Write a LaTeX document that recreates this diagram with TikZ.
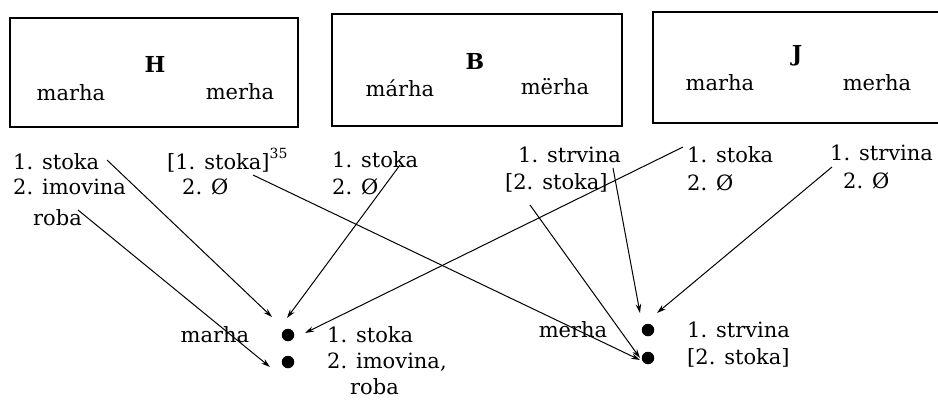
\documentclass[tikz,border=0pt]{standalone}
\usepackage{fontspec}
\setmainfont{DejaVu Serif}
\usetikzlibrary{arrows.meta,calc}
\newcommand{\fnref}[1]{\raisebox{0.5em}{\fontsize{14}{14}\selectfont #1}}
\begin{document}
\begin{tikzpicture}[x=1pt,y=-1pt,
  font=\fontsize{21}{25}\selectfont,
  frame/.style={line width=1.3pt},
  word/.style={inner sep=0pt},
  item/.style={inner sep=0pt,anchor=west},
  dialect/.style={inner sep=0pt,font=\fontsize{22}{26}\selectfont\bfseries},
  dot/.style={circle,fill=black,inner sep=0pt,minimum size=12.5pt},
  link/.style={line width=1pt,-{Stealth[length=9pt,width=5.5pt]}}]
\useasboundingbox (0,0) rectangle (938,400);

% dialect boxes
\draw[frame] (10,18) rectangle (298,127);
\draw[frame] (332,14) rectangle (622,126);
\draw[frame] (940,12) -- (653,12) -- (653,123) -- (940,123);

\node[dialect] (H) at (155,64) {H};
\node[word] (Hma) at (71,93) {marha};
\node[word] (Hme) at (240,92) {merha};
\node[dialect] (B) at (475,61) {B};
\node[word] (Bma) at (400,88) {márha};
\node[word] (Bme) at (555,87) {mërha};
\node[dialect] (J) at (797,56) {J};
\node[word] (Jma) at (720,83) {marha};
\node[word] (Jme) at (877,83) {merha};

% meanings under each dialect form
\node[item] (h1a) at (13,162) {1. stoka};
\node[item] (h1b) at (13,187) {2. imovina};
\node[item] (h1c) at (33,218) {roba};
\node[item,anchor=base west] (h2a) at (167,169) {[1. stoka]\fnref{35}};
\node[item] (h2b) at (182,187) {2. Ø};
\node[item] (b1a) at (332,160) {1. stoka};
\node[item] (b1b) at (332,187) {2. Ø};
\node[item] (b2a) at (518,155) {1. strvina};
\node[item] (b2b) at (505,183) {[2. stoka]};
\node[item] (j1a) at (687,155) {1. stoka};
\node[item] (j1b) at (687,183) {2. Ø};
\node[item] (j2a) at (830,153) {1. strvina};
\node[item] (j2b) at (843,181) {2. Ø};

% standard forms
\node[dot] (d1) at (288,335) {};
\node[dot] (d2) at (288,362) {};
\node[dot] (d3) at (648,330) {};
\node[dot] (d4) at (648,358) {};
\node[word] (marha) at (215,335) {marha};
\node[item] (m1) at (327,335) {1. stoka};
\node[item] (m2) at (327,362) {2. imovina,};
\node[item] (m3) at (350,387) {roba};
\node[word] (merha) at (573,330) {merha};
\node[item] (e1) at (687,330) {1. strvina};
\node[item] (e2) at (687,358) {[2. stoka]};

% start points of the links
\coordinate (s1) at (107,160);
\coordinate (s2) at (78,210);
\coordinate (s3) at (400,165);
\coordinate (s4) at (253,175);
\coordinate (s5) at (683,147);
\coordinate (s6) at (530,205);
\coordinate (s7) at (613,168);
\coordinate (s8) at (832,167);

\draw[link] (s1) -- ($(d1)+(-16,-18)$);
\draw[link] (s2) -- ($(d2)+(-18,5)$);
\draw[link] (s3) -- ($(d1)+(-1,-17)$);
\draw[link] (s4) -- ($(d4)+(-8,2)$);
\draw[link] (s5) -- ($(d1)+(17,-2)$);
\draw[link] (s6) -- ($(d4)+(-8,0)$);
\draw[link] (s7) -- ($(d3)+(-8,-17)$);
\draw[link] (s8) -- ($(d3)+(9,-17)$);
\end{tikzpicture}
\end{document}
